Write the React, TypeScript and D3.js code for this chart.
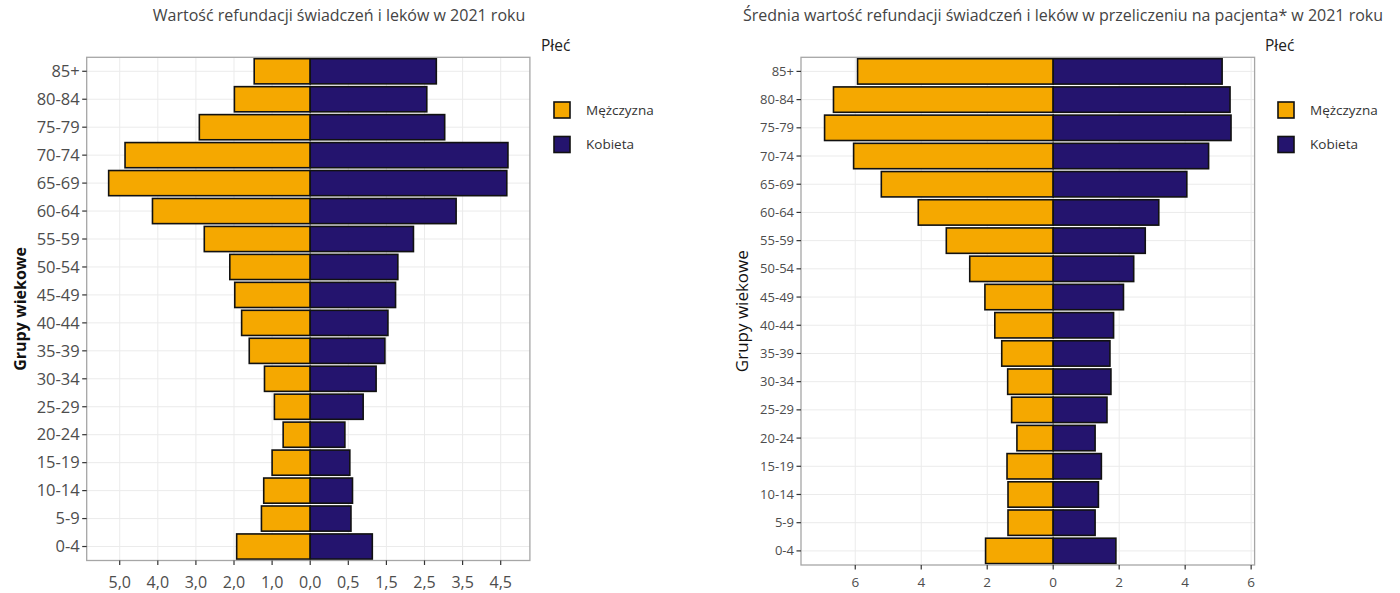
import { scaleBand, scaleLinear, ScaleBand, ScaleLinear } from "d3";

const ageGroups = [
    "0-4", "5-9", "10-14", "15-19", "20-24", "25-29", "30-34", "35-39", "40-44",
    "45-49", "50-54", "55-59", "60-64", "65-69", "70-74", "75-79", "80-84", "85+"
];

// wartość refundacji (lewy wykres), w jednostkach podziałki osi
const totalMale = [1.93, 1.28, 1.22, 1.0, 0.71, 0.94, 1.2, 1.6, 1.8, 1.98, 2.11, 2.78, 4.14, 5.29, 4.86, 2.91, 1.99, 1.47];
const totalFemale = [1.63, 1.07, 1.11, 1.04, 0.91, 1.39, 1.73, 1.96, 2.04, 2.24, 2.3, 2.71, 3.83, 5.16, 5.19, 3.53, 3.06, 3.31];

// średnia wartość na pacjenta (prawy wykres)
const avgMale = [2.05, 1.37, 1.37, 1.4, 1.1, 1.26, 1.38, 1.56, 1.77, 2.07, 2.53, 3.24, 4.09, 5.21, 6.05, 6.93, 6.66, 5.93];
const avgFemale = [1.9, 1.27, 1.37, 1.46, 1.27, 1.63, 1.75, 1.72, 1.83, 2.13, 2.44, 2.79, 3.2, 4.05, 4.71, 5.39, 5.36, 5.12];

const leftTicks = [-5, -4, -3, -2, -1, 0, 1, 2, 3, 4, 5];
const leftTickLabels = ["5,0", "4,0", "3,0", "2,0", "1,0", "0,0", "0,5", "1,5", "2,5", "3,5", "4,5"];
const rightTicks = [-6, -4, -2, 0, 2, 4, 6];
const rightTickLabels = ["6", "4", "2", "0", "2", "4", "6"];

const sexLabels = ["Mężczyzna", "Kobieta"];

const MALE = "#F5A800";
const FEMALE = "#24146E";
const FONT = "'Open Sans', 'Noto Sans', sans-serif";

interface PyramidProps {
    title: string;
    titleX: number;
    male: number[];
    female: number[];
    ticks: number[];
    tickLabels: string[];
    left: number;
    right: number;
    top: number;
    bottom: number;
    expand: number;
    yFont: number;
    xFont: number;
    xLabelDy: number;
    yTitleX: number;
    yTitleBold: boolean;
    yTitleFont: number;
    legendX: number;
}

function Bars({ values, sign, color, x, y }: {
    values: number[];
    sign: number;
    color: string;
    x: ScaleLinear<number, number>;
    y: ScaleBand<string>;
}) {
    return (
        <>
            {values.map((v, i) => {
                const x0 = x(0);
                const x1 = x(sign * v);
                return (
                    <rect
                        key={ageGroups[i]}
                        x={Math.min(x0, x1)}
                        y={y(ageGroups[i])}
                        width={Math.abs(x1 - x0)}
                        height={y.bandwidth()}
                        fill={color}
                        stroke="#111"
                        strokeWidth={1.6}
                    />
                );
            })}
        </>
    );
}

function Pyramid(p: PyramidProps) {
    const lo = -Math.max(...p.male);
    const hi = Math.max(...p.female);
    const pad = (hi - lo) * p.expand;
    const x = scaleLinear().domain([lo - pad, hi + pad]).range([p.left, p.right]);
    const y = scaleBand<string>()
        .domain([...ageGroups].reverse())
        .range([p.top, p.bottom])
        .paddingInner(0.1)
        .paddingOuter(0.05);
    const half = y.bandwidth() / 2;

    return (
        <g fontFamily={FONT}>
            <text x={p.titleX} y={21} textAnchor="middle" fontSize={16} fill="#444">{p.title}</text>

            {/* siatka */}
            {p.ticks.map((t) => (
                <line key={`gx${t}`} x1={x(t)} x2={x(t)} y1={p.top} y2={p.bottom} stroke="#ebebeb" strokeWidth={1} />
            ))}
            {ageGroups.map((g) => (
                <line key={`gy${g}`} x1={p.left} x2={p.right} y1={(y(g) ?? 0) + half} y2={(y(g) ?? 0) + half} stroke="#ebebeb" strokeWidth={1} />
            ))}

            <Bars values={p.male} sign={-1} color={MALE} x={x} y={y} />
            <Bars values={p.female} sign={1} color={FEMALE} x={x} y={y} />

            <rect x={p.left} y={p.top} width={p.right - p.left} height={p.bottom - p.top} fill="none" stroke="#a6a6a6" strokeWidth={1.3} />

            {/* oś X */}
            {p.ticks.map((t, i) => (
                <g key={`tx${t}`} transform={`translate(${x(t)},${p.bottom})`}>
                    <line y1={0} y2={4.5} stroke="#333" strokeWidth={1.2} />
                    <text y={p.xLabelDy} textAnchor="middle" fontSize={p.xFont} fill="#4d4d4d">{p.tickLabels[i]}</text>
                </g>
            ))}

            {/* oś Y */}
            {ageGroups.map((g) => (
                <g key={`ty${g}`} transform={`translate(${p.left},${(y(g) ?? 0) + half})`}>
                    <line x1={-4.5} x2={0} stroke="#333" strokeWidth={1.2} />
                    <text x={-7} dy="0.35em" textAnchor="end" fontSize={p.yFont} fill="#4d4d4d">{g}</text>
                </g>
            ))}
            <text
                transform={`translate(${p.yTitleX},${(p.top + p.bottom) / 2}) rotate(-90)`}
                textAnchor="middle"
                dy="0.35em"
                fontSize={p.yTitleFont}
                fontWeight={p.yTitleBold ? 700 : 400}
                fill="#111"
            >
                Grupy wiekowe
            </text>

            {/* legenda */}
            <text x={p.legendX - 13} y={51} fontSize={15.5} fill="#222">Płeć</text>
            {sexLabels.map((s, i) => (
                <g key={s} transform={`translate(${p.legendX},${102 + i * 34.5})`}>
                    <rect width={16} height={16} fill={i === 0 ? MALE : FEMALE} stroke="#111" strokeWidth={1.6} />
                    <text x={32} y={8} dy="0.35em" fontSize={13.5} fill="#333">{s}</text>
                </g>
            ))}
        </g>
    );
}

export default function App() {
    return (
        <svg width={1400} height={593} style={{ position: "absolute", left: 0, top: 0, background: "#fff" }}>
            <Pyramid
                title="Wartość refundacji świadczeń i leków w 2021 roku"
                titleX={339}
                male={totalMale}
                female={totalFemale}
                ticks={leftTicks}
                tickLabels={leftTickLabels}
                left={86.7}
                right={529.9}
                top={57.3}
                bottom={560.5}
                expand={0.055}
                yFont={16.5}
                xFont={16}
                xLabelDy={27}
                yTitleX={20}
                yTitleBold={true}
                yTitleFont={16}
                legendX={554}
            />
            <Pyramid
                title="Średnia wartość refundacji świadczeń i leków w przeliczeniu na pacjenta* w 2021 roku"
                titleX={1063}
                male={avgMale}
                female={avgFemale}
                ticks={rightTicks}
                tickLabels={rightTickLabels}
                left={801}
                right={1254.6}
                top={57.3}
                bottom={565}
                expand={0.058}
                yFont={13}
                xFont={13.5}
                xLabelDy={22}
                yTitleX={742.5}
                yTitleBold={false}
                yTitleFont={17}
                legendX={1278}
            />
        </svg>
    );
}
